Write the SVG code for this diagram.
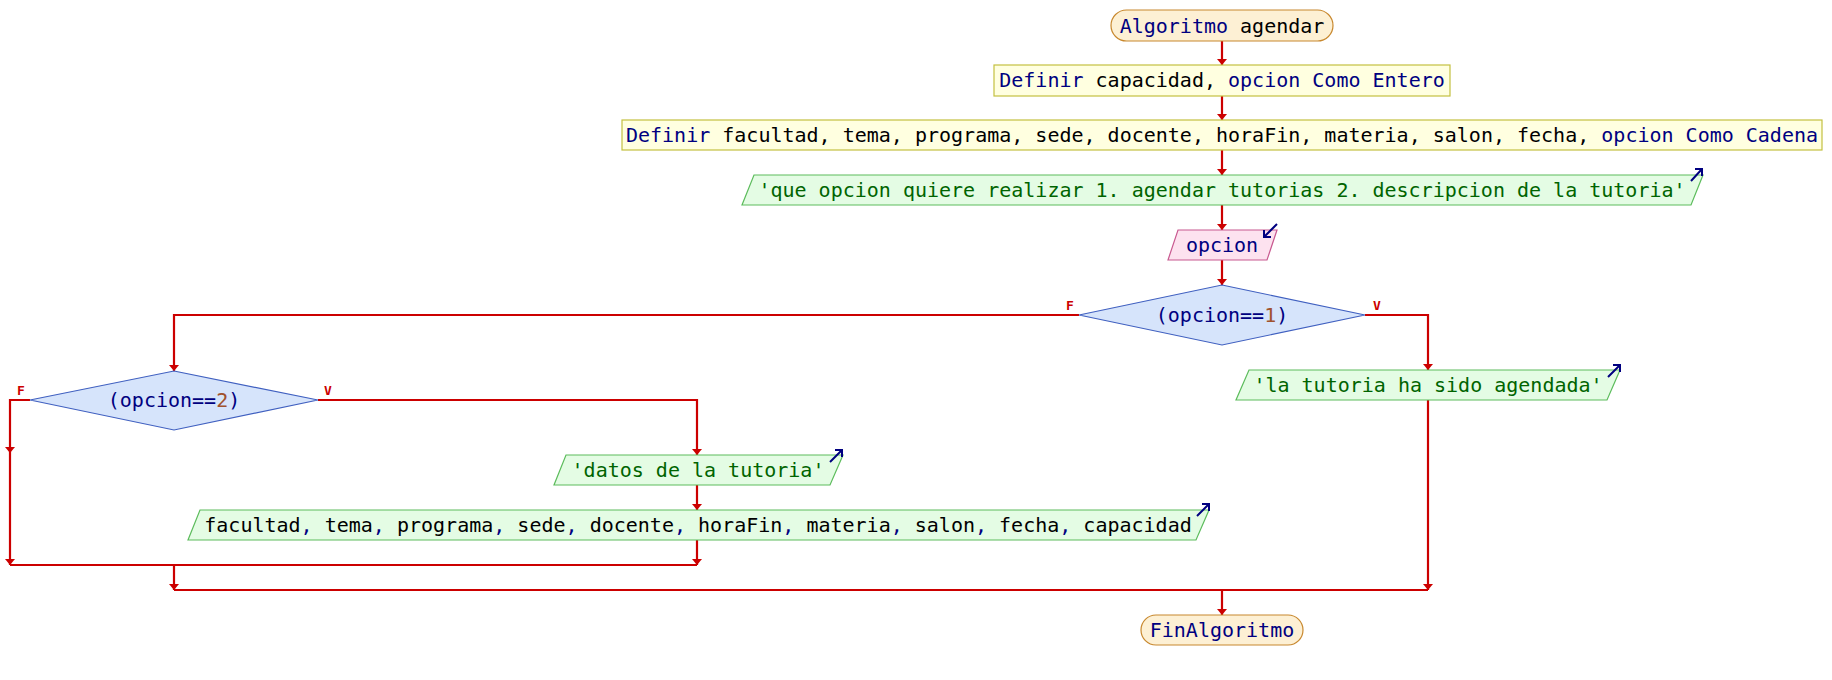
<svg xmlns="http://www.w3.org/2000/svg" xmlns:xlink="http://www.w3.org/1999/xlink" width="1832" height="680" viewBox="0 0 1832 680">
<style>
text{font-family:"DejaVu Sans Mono","Liberation Mono",monospace;font-size:20px;text-anchor:middle;}
.term{fill:#fdf0d4;stroke:#c8882e;stroke-width:1.2;}
.def{fill:#ffffe0;stroke:#c4c040;stroke-width:1.2;}
.out{fill:#e4fce4;stroke:#5cbc5c;stroke-width:1.2;}
.in{fill:#fde2ef;stroke:#c8588f;stroke-width:1.2;}
.dec{fill:#d6e4fb;stroke:#4060c0;stroke-width:1.2;}
.k{fill:#000080;}
.b{fill:#000000;}
.s{fill:#006400;}
.n{fill:#a0522d;}
.lbl{font-size:13px;font-weight:bold;fill:#cc0000;text-anchor:start;}
.wire{fill:none;stroke:#cc0000;stroke-width:2.2;}
.ico{fill:none;stroke:#000080;stroke-width:2;}
</style>
<defs>
<path id="ah" d="M-5,-6 L5,-6 L0,0 Z" fill="#cc0000"/>
</defs>
<rect width="1832" height="680" fill="#ffffff"/>
<g id="connectors">
<path class="wire" d="M1222,41 V65 M1222,96 V120 M1222,150 V175 M1222,205 V230 M1222,260 V285"/>
<path class="wire" d="M1079,315 H174 V371"/>
<path class="wire" d="M1365,315 H1428 V370"/>
<path class="wire" d="M1428,400 V590"/>
<path class="wire" d="M30,400 H10 V565"/>
<path class="wire" d="M318,400 H697 V455"/>
<path class="wire" d="M697,485 V510 M697,540 V565"/>
<path class="wire" d="M10,565 H697 M174,565 V590"/>
<path class="wire" d="M174,590 H1428 M1222,590 V615"/>
<use xlink:href="#ah" x="1222" y="65"/>
<use xlink:href="#ah" x="1222" y="120"/>
<use xlink:href="#ah" x="1222" y="175"/>
<use xlink:href="#ah" x="1222" y="230"/>
<use xlink:href="#ah" x="1222" y="285"/>
<use xlink:href="#ah" x="174" y="371"/>
<use xlink:href="#ah" x="1428" y="370"/>
<use xlink:href="#ah" x="1428" y="590"/>
<use xlink:href="#ah" x="10" y="453"/>
<use xlink:href="#ah" x="10" y="565"/>
<use xlink:href="#ah" x="697" y="455"/>
<use xlink:href="#ah" x="697" y="510"/>
<use xlink:href="#ah" x="697" y="565"/>
<use xlink:href="#ah" x="174" y="590"/>
<use xlink:href="#ah" x="1222" y="615"/>
<text class="lbl" x="1066" y="310">F</text>
<text class="lbl" x="1373" y="310">V</text>
<text class="lbl" x="17" y="395">F</text>
<text class="lbl" x="324" y="395">V</text>
</g>
<g id="start">
<rect class="term" x="1111" y="10" width="222" height="31" rx="15.5"/>
<text x="1222" y="32.5"><tspan class="k">Algoritmo</tspan><tspan class="b"> agendar</tspan></text>
</g>
<g id="def1">
<rect class="def" x="994" y="65" width="456" height="31"/>
<text x="1222" y="87"><tspan class="k">Definir</tspan><tspan class="b"> capacidad, </tspan><tspan class="k">opcion Como Entero</tspan></text>
</g>
<g id="def2">
<rect class="def" x="622" y="120" width="1200" height="30"/>
<text x="1222" y="141.5"><tspan class="k">Definir</tspan><tspan class="b"> facultad, tema, programa, sede, docente, horaFin, materia, salon, fecha, </tspan><tspan class="k">opcion Como Cadena</tspan></text>
</g>
<g id="out1">
<polygon class="out" points="754,175 1703,175 1691,205 742,205"/>
<text class="s" x="1222" y="196.5">'que opcion quiere realizar 1. agendar tutorias 2. descripcion de la tutoria'</text>
<path class="ico" d="M1691,181 L1702,169 M1695,169 H1702 V176"/>
</g>
<g id="in1">
<polygon class="in" points="1178,230 1277,230 1267,260 1168,260"/>
<text class="k" x="1222" y="252">opcion</text>
<path class="ico" d="M1277,224 L1264,237 M1264,230 V237 H1271"/>
</g>
<g id="dec1">
<polygon class="dec" points="1222,285 1365,315 1222,345 1079,315"/>
<text x="1222" y="322"><tspan class="k">(opcion==</tspan><tspan class="n">1</tspan><tspan class="k">)</tspan></text>
</g>
<g id="out2">
<polygon class="out" points="1249,370 1620,370 1607,400 1236,400"/>
<text class="s" x="1428" y="391.5">'la tutoria ha sido agendada'</text>
<path class="ico" d="M1608,377 L1620,365 M1613,365 H1620 V372"/>
</g>
<g id="dec2">
<polygon class="dec" points="174,371 318,400 174,430 30,400"/>
<text x="174" y="407"><tspan class="k">(opcion==</tspan><tspan class="n">2</tspan><tspan class="k">)</tspan></text>
</g>
<g id="out3">
<polygon class="out" points="566,455 843,455 830,485 554,485"/>
<text class="s" x="698" y="476.5">'datos de la tutoria'</text>
<path class="ico" d="M830,462 L842,450 M835,450 H842 V457"/>
</g>
<g id="out4">
<polygon class="out" points="200,510 1209,510 1196,540 188,540"/>
<text x="698" y="531.5"><tspan class="b">facultad</tspan><tspan class="k">,</tspan><tspan class="b"> tema</tspan><tspan class="k">,</tspan><tspan class="b"> programa</tspan><tspan class="k">,</tspan><tspan class="b"> sede</tspan><tspan class="k">,</tspan><tspan class="b"> docente</tspan><tspan class="k">,</tspan><tspan class="b"> horaFin</tspan><tspan class="k">,</tspan><tspan class="b"> materia</tspan><tspan class="k">,</tspan><tspan class="b"> salon</tspan><tspan class="k">,</tspan><tspan class="b"> fecha</tspan><tspan class="k">,</tspan><tspan class="b"> capacidad</tspan></text>
<path class="ico" d="M1197,516 L1209,504 M1202,504 H1209 V511"/>
</g>
<g id="end">
<rect class="term" x="1141" y="615" width="162" height="30" rx="15"/>
<text class="k" x="1222" y="637">FinAlgoritmo</text>
</g>
</svg>
